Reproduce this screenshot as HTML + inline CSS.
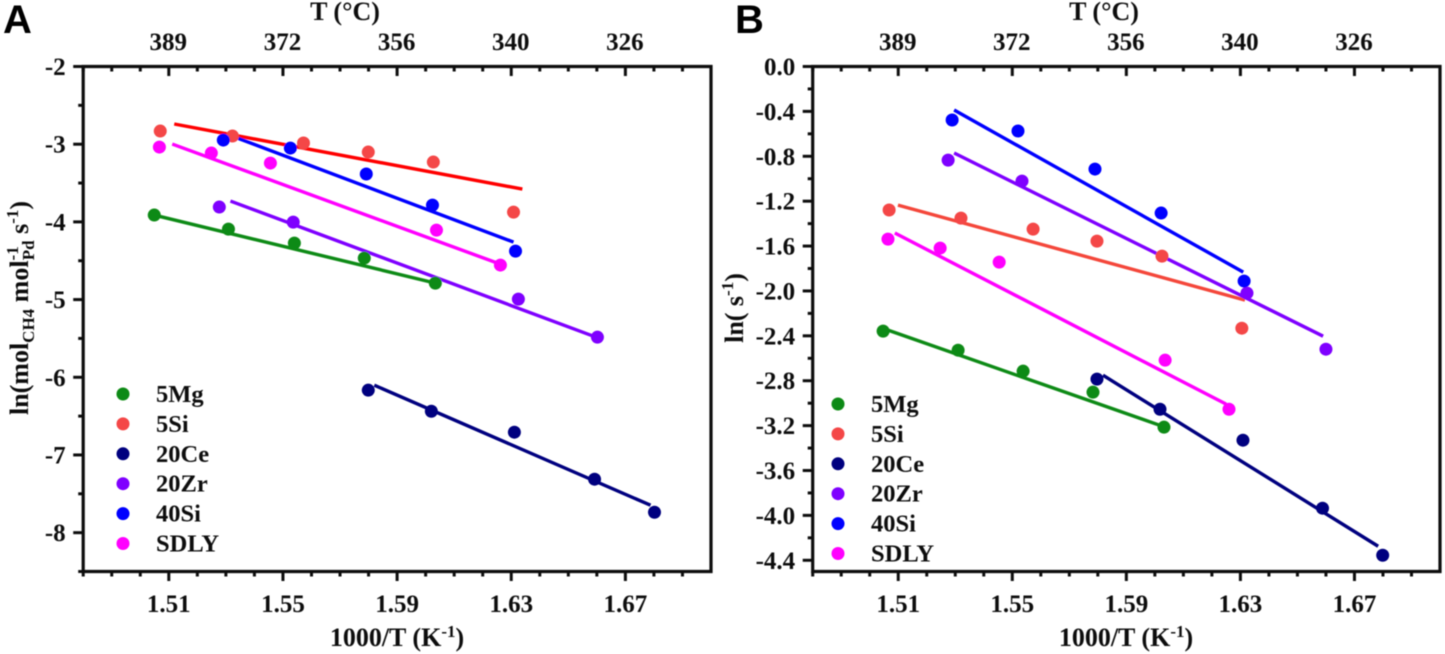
<!DOCTYPE html>
<html>
<head>
<meta charset="utf-8">
<style>
html,body{margin:0;padding:0;background:#fff;width:1445px;height:654px;overflow:hidden}
svg{display:block}
text{font-family:"Liberation Serif",serif;font-weight:bold;fill:#111}
</style>
</head>
<body>
<svg id="figure" width="1445" height="654" viewBox="0 0 1445 654" xmlns="http://www.w3.org/2000/svg">
<defs><filter id="soft" x="-5%" y="-5%" width="110%" height="110%"><feGaussianBlur stdDeviation="0.6"/></filter></defs>
<g id="root" filter="url(#soft)">
<text x="3" y="33" style="font-family:'Liberation Sans',sans-serif;font-size:40px;fill:#000">A</text>
<text x="735" y="33" style="font-family:'Liberation Sans',sans-serif;font-size:40px;fill:#000">B</text>
<text x="345" y="20" text-anchor="middle" font-size="26">T (°C)</text>
<text x="1104" y="20" text-anchor="middle" font-size="26">T (°C)</text>
<text x="397" y="646" text-anchor="middle" font-size="26">1000/T (K<tspan font-size="17" dy="-9">-1</tspan><tspan dy="9">)</tspan></text>
<text x="1126" y="646" text-anchor="middle" font-size="26">1000/T (K<tspan font-size="17" dy="-9">-1</tspan><tspan dy="9">)</tspan></text>
<text transform="translate(28 308) rotate(-90)" text-anchor="middle" font-size="26">ln(mol<tspan font-size="17" dy="6">CH4</tspan><tspan dy="-6"> mol</tspan><tspan font-size="17" dy="-10">-1</tspan><tspan font-size="17" dx="-14" dy="16">Pd</tspan><tspan dy="-6"> s</tspan><tspan font-size="17" dy="-10">-1</tspan><tspan dy="10">)</tspan></text>
<text transform="translate(743 308) rotate(-90)" text-anchor="middle" font-size="26">ln( s<tspan font-size="17" dy="-10">-1</tspan><tspan dy="10">)</tspan></text>
</g>
</svg>
<script>
// Shared axis data
const xTicks = [1.51, 1.55, 1.59, 1.63, 1.67];
const topTickLabels = [389, 372, 356, 340, 326];
const seriesNames = ['5Mg', '5Si', '20Ce', '20Zr', '40Si', 'SDLY'];

// Panel A tick labels
const yTicksA = [-2, -3, -4, -5, -6, -7, -8];
// Panel B tick labels
const yTicksB = [0, -0.4, -0.8, -1.2, -1.6, -2.0, -2.4, -2.8, -3.2, -3.6, -4.0, -4.4];

// Panel A points
const aX5Mg = [1.5049, 1.5309, 1.5540, 1.5785, 1.6034];
const aY5Mg = [-3.912, -4.093, -4.273, -4.466, -4.788];
const aX5Si = [1.5070, 1.5323, 1.5572, 1.5799, 1.6027, 1.6308];
const aY5Si = [-2.831, -2.895, -2.985, -3.101, -3.230, -3.874];
const aX20Ce = [1.5799, 1.6020, 1.6311, 1.6592, 1.6802];
const aY20Ce = [-6.166, -6.437, -6.707, -7.312, -7.737];
const aX20Zr = [1.5277, 1.5536, 1.6325, 1.6602];
const aY20Zr = [-3.809, -4.003, -4.994, -5.484];
const aX40Si = [1.5291, 1.5526, 1.5792, 1.6024, 1.6315];
const aY40Si = [-2.947, -3.050, -3.384, -3.784, -4.376];
const aXSDLY = [1.5067, 1.5249, 1.5456, 1.6038, 1.6262];
const aYSDLY = [-3.037, -3.114, -3.243, -4.106, -4.556];

// Panel A fit lines (start, end)
const aFitX5Mg = [1.5063, 1.6034];
const aFitY5Mg = [-3.925, -4.788];
const aFitX5Si = [1.5119, 1.6339];
const aFitY5Si = [-2.740, -3.578];
const aFitX20Ce = [1.5820, 1.6788];
const aFitY20Ce = [-6.102, -7.647];
const aFitX20Zr = [1.5316, 1.6588];
const aFitY20Zr = [-3.732, -5.471];
const aFitX40Si = [1.5340, 1.6308];
const aFitY40Si = [-2.921, -4.260];
const aFitXSDLY = [1.5112, 1.6252];
const aFitYSDLY = [-2.998, -4.531];

// Panel B points
const bX5Mg = [1.5047, 1.5310, 1.5538, 1.5783, 1.6032];
const bY5Mg = [-2.358, -2.528, -2.715, -2.902, -3.214];
const bX5Si = [1.5068, 1.5320, 1.5573, 1.5797, 1.6025, 1.6305];
const bY5Si = [-1.279, -1.351, -1.449, -1.556, -1.690, -2.332];
const bX20Ce = [1.5797, 1.6018, 1.6309, 1.6588, 1.6799];
const bY20Ce = [-2.786, -3.054, -3.330, -3.936, -4.355];
const bX20Zr = [1.5275, 1.5534, 1.6323, 1.6600];
const bY20Zr = [-0.834, -1.021, -2.019, -2.519];
const bX40Si = [1.5289, 1.5520, 1.5790, 1.6022, 1.6313];
const bY40Si = [-0.477, -0.575, -0.914, -1.306, -1.912];
const bXSDLY = [1.5064, 1.5247, 1.5454, 1.6036, 1.6260];
const bYSDLY = [-1.538, -1.618, -1.743, -2.617, -3.054];

// Panel B fit lines (start, end)
const bFitX5Mg = [1.5064, 1.6036];
const bFitY5Mg = [-2.349, -3.214];
const bFitX5Si = [1.5099, 1.6316];
const bFitY5Si = [-1.235, -2.082];
const bFitX20Ce = [1.5818, 1.6783];
const bFitY20Ce = [-2.751, -4.275];
const bFitX20Zr = [1.5296, 1.6590];
const bFitY20Zr = [-0.771, -2.403];
const bFitX40Si = [1.5296, 1.6310];
const bFitY40Si = [-0.388, -1.832];
const bFitXSDLY = [1.5088, 1.6250];
const bFitYSDLY = [-1.484, -3.009];

const NS = 'http://www.w3.org/2000/svg';
const root = document.getElementById('root');
const dotColors = ['#0b8a12', '#f44747', '#00007f', '#7f00ff', '#0000ff', '#ff00ff'];

function mk(tag, attrs, parent) {
  const el = document.createElementNS(NS, tag);
  for (const k in attrs) el.setAttribute(k, attrs[k]);
  parent.appendChild(el);
  return el;
}

function drawPanel(cfg) {
  const sx = v => cfg.left + (v - 1.48) / 0.22 * (cfg.right - cfg.left);
  const sy = v => cfg.top + (cfg.yMax - v) / (cfg.yMax - cfg.yMin) * (cfg.bottom - cfg.top);
  const g = mk('g', {}, root);
  
  

  const frame = mk('path', {
    d: 'M' + cfg.left + ' ' + cfg.bottom + 'V' + cfg.top + 'H' + cfg.right + 'V' + cfg.bottom + 'Z',
    fill: 'none', stroke: '#111', 'stroke-width': 3.2
  }, g);
  
  

  // x minor + major ticks, every 0.01
  for (let i = 0; i <= 21; i++) {
    const v = 1.48 + i * 0.01;
    const x = sx(v);
    const major = xTicks.some(t => Math.abs(t - v) < 1e-6);
    const len = major ? 9.5 : 5;
    const tb = mk('line', {x1: x, x2: x, y1: cfg.bottom, y2: cfg.bottom + len, stroke: '#111', 'stroke-width': 3}, g);
    
    
    const tt = mk('line', {x1: x, x2: x, y1: cfg.top, y2: cfg.top + len, stroke: '#111', 'stroke-width': 3}, g);
    
    
  }
  xTicks.forEach((t, i) => {
    const a = mk('text', {x: sx(t), y: 612, 'text-anchor': 'middle', 'font-size': 25}, g);
    a.textContent = t.toFixed(2);
    
    
    const b = mk('text', {x: sx(t) - 0.5, y: 50, 'text-anchor': 'middle', 'font-size': 25}, g);
    b.textContent = topTickLabels[i];
    
    
  });

  // y ticks
  const n = Math.floor((cfg.yMax - cfg.yMin) / cfg.yMinor + 1e-6);
  for (let i = 0; i <= n; i++) {
    const v = cfg.yMax - i * cfg.yMinor;
    const y = sy(v);
    const major = cfg.yTicks.some(t => Math.abs(t - v) < 1e-6);
    const ty = mk('line', {x1: cfg.left - (major ? 10 : 5), x2: cfg.left, y1: y, y2: y, stroke: '#111', 'stroke-width': 3}, g);
    
    
  }
  cfg.yTicks.forEach(t => {
    const l = mk('text', {x: cfg.left - 17.5, y: sy(t) + 8.5, 'text-anchor': 'end', 'font-size': 25}, g);
    l.textContent = cfg.yFmt(t);
    
    
  });

  // fit lines then points
  seriesNames.forEach((name, i) => {
    const fx = cfg.fitX[i], fy = cfg.fitY[i];
    const line = mk('line', {
      x1: sx(fx[0]), y1: sy(fy[0]), x2: sx(fx[1]), y2: sy(fy[1]),
      stroke: cfg.lineColors[i], 'stroke-width': 3.4
    }, g);
    
    
  });
  seriesNames.forEach((name, i) => {
    cfg.ptX[i].forEach((vx, j) => {
      const c = mk('circle', {cx: sx(vx), cy: sy(cfg.ptY[i][j]), r: 6.5, fill: dotColors[i]}, g);
      
      
    });
  });

  // legend
  seriesNames.forEach((name, i) => {
    const ly = cfg.legY + i * 29.9;
    const d = mk('circle', {cx: cfg.legX, cy: ly, r: 6.5, fill: dotColors[i]}, g);
    
    
    const t = mk('text', {x: cfg.legX + 33, y: ly + 8, 'font-size': 24.5}, g);
    t.textContent = name;
    
    
  });
}

drawPanel({
  id: 'panel-a', left: 83.2, right: 711, top: 66.5, bottom: 571.5,
  yMax: -2, yMin: -8.5, yMinor: 0.5, yTicks: yTicksA, yFmt: t => String(t),
  legX: 123, legY: 394,
  lineColors: ['#0b8a12', '#ff0000', '#00007f', '#7f00ff', '#0000ff', '#ff00ff'],
  ptX: [aX5Mg, aX5Si, aX20Ce, aX20Zr, aX40Si, aXSDLY],
  ptY: [aY5Mg, aY5Si, aY20Ce, aY20Zr, aY40Si, aYSDLY],
  fitX: [aFitX5Mg, aFitX5Si, aFitX20Ce, aFitX20Zr, aFitX40Si, aFitXSDLY],
  fitY: [aFitY5Mg, aFitY5Si, aFitY20Ce, aFitY20Zr, aFitY40Si, aFitYSDLY]
});
drawPanel({
  id: 'panel-b', left: 812.7, right: 1440, top: 66.5, bottom: 571.5,
  yMax: 0, yMin: -4.5, yMinor: 0.2, yTicks: yTicksB, yFmt: t => t.toFixed(1),
  legX: 838, legY: 404,
  lineColors: ['#0b8a12', '#f4473a', '#00007f', '#7f00ff', '#0000ff', '#ff00ff'],
  ptX: [bX5Mg, bX5Si, bX20Ce, bX20Zr, bX40Si, bXSDLY],
  ptY: [bY5Mg, bY5Si, bY20Ce, bY20Zr, bY40Si, bYSDLY],
  fitX: [bFitX5Mg, bFitX5Si, bFitX20Ce, bFitX20Zr, bFitX40Si, bFitXSDLY],
  fitY: [bFitY5Mg, bFitY5Si, bFitY20Ce, bFitY20Zr, bFitY40Si, bFitYSDLY]
});
</script>
</body>
</html>
